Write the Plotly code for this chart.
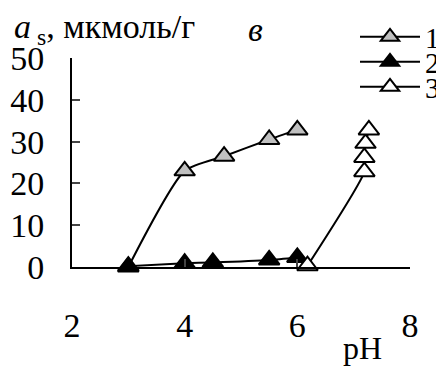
import plotly.graph_objects as go

# Series data
ph1 = [3.0, 4.0, 4.7, 5.5, 6.0]
as1 = [0.0, 23.0, 26.5, 30.5, 32.8]

ph2 = [3.0, 4.0, 4.5, 5.5, 6.0]
as2 = [0.2, 0.9, 1.1, 1.7, 2.3]

ph3 = [6.18, 7.19, 7.19, 7.21, 7.27]
as3 = [0.3, 22.8, 26.2, 29.6, 32.8]

names = ["1", "2", "3"]
fills = ["#c0c0c0", "#000000", "#ffffff"]

x_ticks = [2, 4, 6, 8]
y_ticks = [0, 10, 20, 30, 40, 50]

FONT = "Liberation Serif"

# The page body has a default 8px margin, so the figure is drawn 8px in from
# the window's top-left corner; layout positions below are given in window
# pixels and converted.
OFF = 8
W, H = 444 - OFF, 367 - OFF
PL, PT, PW, PH = 72 - OFF, 58 - OFF, 338, 209


def px2paper_x(px):
    return (px - OFF - PL) / PW


def py2paper_y(py):
    return 1 - (py - OFF - PT) / PH


fig = go.Figure()
series = [(ph1, as1), (ph2, as2), (ph3, as3)]
legends = ["legend", "legend2", "legend3"]
for (xs, ys), nm, fc, lg in zip(series, names, fills, legends):
    fig.add_trace(go.Scatter(
        x=xs, y=ys, name=nm, mode="lines+markers",
        line=dict(color="black", width=2, shape="spline", smoothing=0.6),
        marker=dict(symbol="triangle-up", size=18, color=fc,
                    line=dict(color="black", width=2)),
        cliponaxis=False, legend=lg, showlegend=True,
    ))

leg_common = dict(xref="paper", yref="paper", xanchor="left", yanchor="middle",
                  font=dict(family=FONT, size=29, color="black"),
                  itemwidth=60, bgcolor="rgba(0,0,0,0)", borderwidth=0, visible=True)
rows = [37, 62, 87]
LX = 355
fig.update_layout(
    showlegend=True,
    legend=dict(x=px2paper_x(LX), y=py2paper_y(rows[0]), **leg_common),
    legend2=dict(x=px2paper_x(LX), y=py2paper_y(rows[1]), **leg_common),
    legend3=dict(x=px2paper_x(LX), y=py2paper_y(rows[2]), **leg_common),
)

fig.update_layout(
    width=W, height=H,
    margin=dict(l=PL, r=W - PL - PW, t=PT, b=H - PT - PH, autoexpand=False),
    paper_bgcolor="white", plot_bgcolor="white",
    font=dict(family=FONT, size=34, color="black"),
    xaxis=dict(range=[2, 8], tickvals=x_ticks, ticks="inside", ticklen=8, tickwidth=2,
               showline=True, linewidth=2, linecolor="black", showgrid=False,
               zeroline=False, ticklabelstandoff=27, automargin=False,
               tickfont=dict(family=FONT, size=34, color="black")),
    yaxis=dict(range=[0, 50], tickvals=y_ticks, ticks="inside", ticklen=8, tickwidth=2,
               showline=True, linewidth=2, linecolor="black", showgrid=False,
               zeroline=False, ticklabelstandoff=19, automargin=False,
               tickfont=dict(family=FONT, size=34, color="black")),
    annotations=[
        dict(text="<i>a</i><sub> s</sub>, мкмоль/г", xref="paper", yref="paper",
             x=px2paper_x(12), y=py2paper_y(29), xanchor="left", yanchor="middle",
             showarrow=False, font=dict(family=FONT, size=34, color="black")),
        dict(text="<i>в</i>", xref="paper", yref="paper",
             x=px2paper_x(255), y=py2paper_y(29), xanchor="center", yanchor="middle",
             showarrow=False, font=dict(family=FONT, size=34, color="black")),
        dict(text="pH", xref="paper", yref="paper",
             x=px2paper_x(362), y=py2paper_y(348), xanchor="center", yanchor="middle",
             showarrow=False, font=dict(family=FONT, size=32, color="black")),
    ],
)

fig.write_html("out.html")
